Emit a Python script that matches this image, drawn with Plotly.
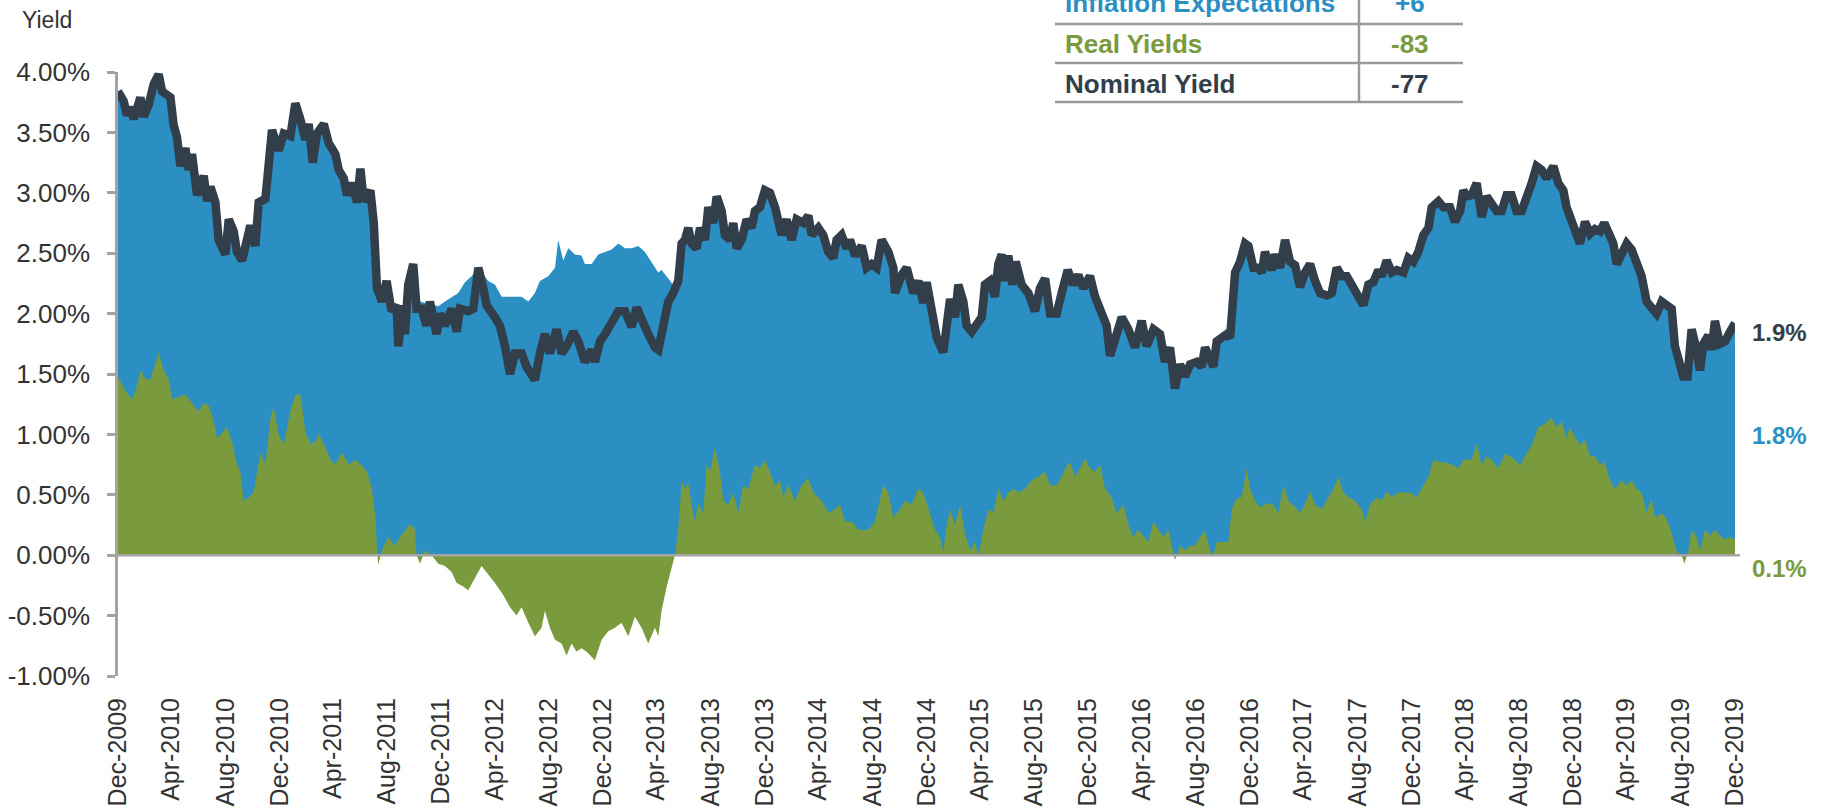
import numpy as np
import pandas as pd
import plotly.graph_objects as go

# ---------------- data (months after 31-Dec-2009, yield in %) ----------------
nominal_points = [
    (0.00,3.84),(0.42,3.76),(0.67,3.64),(0.92,3.71),(1.17,3.61),(1.66,3.79),(1.91,3.63),(2.28,3.73),(2.65,3.90),(3.02,3.98),
    (3.27,3.84),(3.89,3.79),(4.13,3.56),(4.38,3.46),(4.63,3.22),(5.00,3.37),(5.25,3.19),(5.49,3.32),(5.87,2.98),(6.36,3.14),
    (6.61,2.93),(6.86,3.05),(7.23,2.92),(7.47,2.61),(7.97,2.49),(8.22,2.78),(8.59,2.68),(8.83,2.51),(9.21,2.44),(9.45,2.58),
    (9.82,2.73),(10.19,2.56),(10.44,2.92),(10.94,2.95),(11.31,3.30),(11.43,3.52),(11.93,3.35),(12.30,3.49),(12.79,3.47),(13.16,3.74),
    (13.53,3.61),(13.91,3.44),(14.15,3.57),(14.45,3.25),(14.77,3.49),(15.27,3.57),(15.64,3.41),(16.13,3.32),(16.38,3.19),(16.75,3.12),
    (17.00,2.98),(17.37,3.08),(17.74,2.92),(17.99,3.20),(18.23,2.93),(18.73,3.02),(18.98,2.75),(19.22,2.21),(19.59,2.10),
    (19.93,2.27),(20.30,2.02),(20.68,2.07),(20.80,1.73),(21.17,2.07),(21.29,1.83),(21.54,2.24),(21.91,2.41),(22.16,2.04),(22.53,2.04),
    (22.90,1.90),(23.15,2.10),(23.64,1.83),(23.89,2.00),(24.26,1.90),(24.76,2.04),(25.13,1.85),(25.38,2.04),(26.01,2.02),(26.37,2.04),
    (26.74,2.38),(27.11,2.21),(27.35,2.07),(27.97,1.97),(28.34,1.90),(28.72,1.73),(29.09,1.50),(29.46,1.67),(29.95,1.67),(30.32,1.56),
    (30.69,1.50),(30.94,1.45),(31.31,1.67),(31.68,1.83),(32.05,1.67),(32.55,1.87),(32.92,1.67),(33.29,1.73),(33.79,1.85),(34.16,1.77),
    (34.65,1.60),(35.15,1.70),(35.39,1.60),(35.77,1.77),(36.14,1.83),(36.63,1.94),(37.13,2.02),(37.62,2.02),(38.12,1.89),(38.49,2.05),
    (38.86,1.94),(39.35,1.83),(39.85,1.72),
    (40.10,1.70),(40.47,1.90),(40.84,2.10),(41.21,2.17),(41.58,2.27),(41.83,2.58),(42.08,2.61),(42.32,2.71),(42.57,2.58),(42.94,2.54),
    (43.19,2.71),(43.56,2.61),(43.81,2.88),(44.18,2.75),(44.43,2.97),(44.80,2.85),(45.04,2.65),(45.42,2.61),(45.66,2.75),(45.91,2.54),
    (46.28,2.61),(46.65,2.78),(47.02,2.71),(47.27,2.85),(47.64,2.88),(48.01,3.02),(48.38,3.00),(48.76,2.88),(49.25,2.65),(49.62,2.78),
    (49.99,2.61),(50.36,2.78),(50.86,2.75),(51.23,2.81),(51.48,2.65),(51.97,2.71),(52.34,2.65),(52.71,2.51),(53.08,2.46),(53.33,2.61),
    (53.70,2.65),(54.07,2.54),(54.32,2.61),(54.69,2.48),(55.19,2.56),(55.56,2.38),(55.93,2.41),(56.30,2.38),(56.67,2.61),(57.17,2.51),
    (57.54,2.38),(57.66,2.17),(58.16,2.32),(58.53,2.38),(59.02,2.17),(59.39,2.27),(59.76,2.09),
    (60.01,2.26),(60.38,2.04),(60.76,1.80),(61.25,1.68),(61.50,1.94),(61.75,2.12),(62.12,1.97),(62.36,2.24),(62.73,2.10),(62.98,1.90),
    (63.35,1.85),(63.72,1.90),(64.10,1.97),(64.34,2.24),(64.71,2.27),(65.08,2.14),(65.33,2.41),(65.58,2.49),(65.83,2.27),(66.07,2.48),
    (66.37,2.24),(66.62,2.43),(67.06,2.24),(67.56,2.17),(68.05,2.02),(68.42,2.21),(68.80,2.29),(69.17,2.00),(69.66,2.00),(70.03,2.17),
    (70.48,2.36),(70.90,2.24),(71.27,2.32),(71.64,2.21),(72.13,2.31),(72.51,2.14),(73.00,2.02),(73.37,1.90),(73.62,1.65),(73.99,1.80),
    (74.49,1.97),(74.98,1.87),(75.47,1.72),(75.97,1.94),(76.34,1.73),(76.84,1.87),(77.33,1.83),(77.70,1.60),(78.07,1.72),(78.44,1.38),
    (78.81,1.58),(79.19,1.48),(79.56,1.58),
    (80.05,1.60),(80.42,1.56),(80.67,1.72),(81.04,1.60),(81.29,1.56),(81.54,1.77),(81.91,1.80),(82.28,1.83),(82.53,1.80),(82.70,2.17),
    (82.90,2.34),(83.27,2.43),(83.64,2.58),(83.89,2.56),(84.26,2.38),(84.63,2.38),(84.88,2.34),(85.12,2.51),(85.37,2.44),(85.62,2.36),
    (85.87,2.49),(86.24,2.38),(86.61,2.61),(86.98,2.43),(87.35,2.40),(87.72,2.22),(88.09,2.34),(88.46,2.41),(88.84,2.27),(89.21,2.17),
    (89.70,2.15),(90.07,2.17),(90.44,2.38),(90.81,2.31),(91.19,2.31),(91.56,2.24),(92.05,2.17),(92.42,2.07),(92.79,2.24),(93.16,2.26),
    (93.54,2.36),(93.78,2.31),(94.15,2.44),(94.53,2.34),(94.90,2.36),(95.39,2.34),(95.76,2.46),(96.13,2.43),(96.50,2.51),(96.87,2.65),
    (97.25,2.71),(97.49,2.88),(97.99,2.93),(98.36,2.88),(98.85,2.88),(99.22,2.76),(99.60,2.85),(99.84,3.02),
    (100.08,2.97),(100.45,2.98),(100.83,3.08),(101.20,2.80),(101.57,2.97),(101.94,2.92),(102.31,2.85),(102.68,2.85),(103.05,2.98),(103.42,2.98),
    (103.79,2.85),(104.17,2.85),(104.54,2.95),(104.91,3.08),(105.28,3.22),(105.65,3.19),(106.02,3.12),(106.52,3.22),(106.89,3.08),(107.26,3.02),
    (107.50,2.88),(107.88,2.78),(108.25,2.68),(108.49,2.58),(108.87,2.76),(109.24,2.66),(109.61,2.70),(109.98,2.68),(110.30,2.75),(110.60,2.65),
    (110.97,2.58),(111.22,2.41),(111.59,2.51),(111.96,2.58),(112.33,2.53),(112.70,2.41),(113.07,2.31),(113.44,2.10),(113.81,2.05),(114.18,2.00),
    (114.56,2.10),(114.93,2.07),(115.30,2.04),(115.54,1.73),(115.79,1.60),(116.16,1.48),(116.48,1.48),(116.78,1.87),(117.15,1.70),(117.40,1.53),
    (117.65,1.75),(118.02,1.82),(118.27,1.70),(118.51,1.94),(118.88,1.75),(119.26,1.77),(119.63,1.85),(120.00,1.92),
]

real_points = [
    (0.00,1.48),(0.55,1.36),(1.04,1.29),(1.29,1.36),(1.66,1.53),(2.03,1.46),(2.40,1.45),(2.77,1.60),(3.02,1.68),(3.39,1.53),
    (3.76,1.46),(4.01,1.29),(4.50,1.31),(5.00,1.33),(5.49,1.26),(5.99,1.19),(6.36,1.26),(6.73,1.24),(7.10,1.11),(7.35,0.97),
    (7.72,1.01),(8.09,1.06),(8.46,0.94),(8.83,0.75),(9.08,0.70),(9.33,0.45),(9.70,0.48),(10.07,0.52),(10.32,0.69),(10.57,0.85),
    (10.94,0.75),(11.31,1.13),(11.55,1.23),(11.93,0.99),(12.30,0.92),(12.79,1.19),(13.16,1.33),(13.53,1.33),(13.91,1.02),(14.28,0.92),
    (14.65,0.94),(14.89,1.01),(15.39,0.89),(15.76,0.79),(16.13,0.75),(16.63,0.85),(17.12,0.75),(17.62,0.79),(18.11,0.74),(18.48,0.69),
    (18.85,0.55),(19.10,0.31),(19.30,-0.08),(19.59,0.04),
    (20.06,0.15),(20.55,0.08),(20.92,0.15),(21.42,0.23),(21.67,0.26),(22.04,0.21),(22.16,0.00),(22.41,-0.07),(22.78,0.04),(23.27,0.00),
    (23.77,-0.07),(24.26,-0.09),(24.76,-0.14),(25.13,-0.23),(25.62,-0.26),(25.99,-0.29),(26.49,-0.19),(26.98,-0.09),(27.48,-0.16),(27.97,-0.23),
    (28.59,-0.33),(29.09,-0.43),(29.58,-0.50),(29.95,-0.43),(30.45,-0.56),(30.94,-0.67),(31.44,-0.60),(31.68,-0.46),(32.05,-0.60),(32.43,-0.70),
    (32.92,-0.73),(33.29,-0.83),(33.66,-0.73),(34.03,-0.80),(34.40,-0.77),(34.78,-0.80),(35.39,-0.87),(35.89,-0.70),(36.38,-0.63),(36.88,-0.60),
    (37.37,-0.56),(37.87,-0.67),(38.36,-0.51),(38.86,-0.60),(39.35,-0.73),(39.85,-0.60),
    (40.10,-0.67),(40.34,-0.46),(40.72,-0.26),(41.09,-0.09),(41.33,0.00),(41.58,0.21),(41.83,0.62),(42.08,0.55),(42.32,0.60),(42.57,0.42),
    (42.82,0.28),(43.07,0.43),(43.44,0.35),(43.68,0.75),(43.93,0.69),(44.30,0.89),(44.67,0.69),(44.92,0.45),(45.29,0.42),(45.66,0.52),
    (46.03,0.35),(46.41,0.58),(46.78,0.55),(47.27,0.75),(47.64,0.72),(48.01,0.79),(48.38,0.69),(48.76,0.58),(49.13,0.62),(49.37,0.48),
    (49.74,0.58),(50.24,0.45),(50.73,0.58),(51.23,0.64),(51.60,0.52),(52.22,0.45),(52.71,0.35),(53.21,0.38),(53.58,0.42),(53.95,0.28),
    (54.45,0.28),(54.94,0.21),(55.31,0.21),(55.68,0.21),(56.18,0.28),(56.55,0.45),(56.79,0.58),(57.17,0.52),(57.54,0.31),(58.03,0.38),
    (58.40,0.45),(58.90,0.42),(59.39,0.55),(59.76,0.52),
    (60.26,0.35),(60.63,0.21),(61.00,0.15),(61.25,0.03),(61.50,0.25),(61.75,0.38),(62.12,0.25),(62.49,0.42),(62.86,0.18),(63.23,0.04),
    (63.60,0.11),(63.85,0.00),(64.22,0.21),(64.59,0.38),(64.96,0.35),(65.33,0.55),(65.70,0.45),(66.07,0.52),(66.44,0.55),(66.82,0.52),
    (67.31,0.55),(67.81,0.62),(68.30,0.65),(68.80,0.69),(69.17,0.58),(69.66,0.58),(70.03,0.65),(70.40,0.74),(70.65,0.77),(71.02,0.65),
    (71.52,0.75),(71.76,0.80),(72.13,0.72),(72.51,0.69),(72.88,0.75),(73.25,0.55),(73.74,0.48),(74.11,0.35),(74.61,0.42),(74.98,0.25),
    (75.35,0.15),(75.72,0.21),(76.09,0.16),(76.46,0.11),(76.84,0.28),(77.21,0.21),(77.58,0.15),(77.95,0.21),(78.32,0.00),(78.44,-0.04),
    (78.81,0.08),(79.19,0.04),(79.56,0.08),(79.93,0.08),
    (80.30,0.15),(80.67,0.20),(81.04,0.04),(81.29,0.00),(81.54,0.11),(82.03,0.11),(82.40,0.11),(82.65,0.38),(83.02,0.47),(83.39,0.48),
    (83.76,0.72),(84.01,0.55),(84.38,0.45),(84.75,0.40),(85.25,0.43),(85.74,0.42),(86.11,0.35),(86.49,0.58),(86.86,0.45),(87.35,0.40),
    (87.72,0.35),(88.09,0.42),(88.46,0.53),(88.84,0.42),(89.33,0.38),(89.83,0.48),(90.20,0.55),(90.57,0.65),(90.94,0.52),(91.31,0.48),
    (91.80,0.45),(92.30,0.38),(92.55,0.28),(92.92,0.42),(93.41,0.48),(93.78,0.45),(94.15,0.53),(94.53,0.48),(95.02,0.52),(95.39,0.52),
    (95.89,0.52),(96.38,0.48),(96.87,0.58),(97.25,0.65),(97.62,0.79),(98.11,0.77),(98.48,0.77),(98.98,0.75),(99.47,0.72),(99.84,0.79),
    (100.45,0.79),(100.83,0.92),(101.20,0.75),(101.57,0.82),(101.94,0.79),(102.43,0.72),(102.93,0.84),(103.30,0.82),(103.67,0.79),(104.04,0.74),
    (104.41,0.82),(104.91,0.91),(105.40,1.06),(105.90,1.09),(106.39,1.14),(106.76,1.06),(107.13,1.11),(107.50,0.97),(107.75,1.06),(108.12,0.99),
    (108.49,0.91),(108.87,0.96),(109.24,0.82),(109.61,0.82),(109.98,0.75),(110.35,0.77),(110.72,0.62),(111.09,0.55),(111.59,0.62),(111.96,0.58),
    (112.33,0.62),(112.70,0.55),(113.07,0.52),(113.44,0.35),(113.81,0.47),(114.06,0.31),(114.56,0.35),(114.93,0.30),(115.30,0.18),(115.67,0.03),
    (116.04,0.00),(116.24,-0.07),(116.53,0.03),(116.78,0.21),(117.15,0.15),(117.40,0.04),(117.77,0.21),(118.14,0.16),(118.51,0.21),(118.88,0.16),
    (119.26,0.13),(119.63,0.15),(120.00,0.13),
]

# inflation expectations while real yields were negative (shown above nominal)
breakeven_points = [
    (22.41,2.10),(23.77,2.06),(24.26,2.10),(25.25,2.17),(25.75,2.26),(26.24,2.31),(26.74,2.38),(27.48,2.27),(27.97,2.24),(28.47,2.14),
    (28.96,2.14),(29.46,2.14),(29.95,2.14),(30.45,2.10),(30.94,2.17),(31.31,2.27),(31.93,2.31),(32.43,2.38),(32.67,2.61),(33.04,2.44),
    (33.42,2.54),(33.91,2.49),(34.40,2.48),(34.65,2.41),(35.15,2.41),(35.64,2.49),(36.14,2.51),(36.63,2.53),(37.13,2.58),(37.62,2.54),
    (38.12,2.54),(38.61,2.56),(39.11,2.51),(39.60,2.43),(40.09,2.34),(40.34,2.36),(40.96,2.27),(41.33,2.22),
]

table_labels = ["Inflation Expectations", "Real Yields", "Nominal Yield"]
table_changes = ["+6", "-83", "-77"]

tick_months = list(range(0, 121, 4))
y_ticks = [-1.0, -0.5, 0.0, 0.5, 1.0, 1.5, 2.0, 2.5, 3.0, 3.5, 4.0]

# ---------------- styling ----------------
BLUE = "#2b8fc4"
GREEN = "#7a9a3e"
DARK = "#323e4a"
GRAY = "#a3a3a3"
TEXT = "#333333"
FONT = "Liberation Sans, Arial, sans-serif"

START = pd.Timestamp("2009-12-31")


def to_dates(months):
    return START + pd.to_timedelta(np.asarray(months, dtype=float) * 30.4375, unit="D")


nom_m, nom_v = zip(*nominal_points)
real_m, real_v = zip(*real_points)
be_m, be_v = zip(*breakeven_points)

nom_x = to_dates(nom_m)
real_x = to_dates(real_m)
be_x = to_dates(be_m)

fig = go.Figure()
fig.add_trace(go.Scatter(x=nom_x, y=nom_v, mode="lines", fill="tozeroy",
                         fillcolor=BLUE, line=dict(width=0, color=BLUE),
                         hoverinfo="skip", showlegend=False))
fig.add_trace(go.Scatter(x=be_x, y=be_v, mode="lines", fill="tozeroy",
                         fillcolor=BLUE, line=dict(width=0, color=BLUE),
                         name="Inflation Expectations", showlegend=False))
fig.add_trace(go.Scatter(x=real_x, y=real_v, mode="lines", fill="tozeroy",
                         fillcolor=GREEN, line=dict(width=0, color=GREEN),
                         name="Real Yields", showlegend=False))
fig.add_trace(go.Scatter(x=nom_x, y=nom_v, mode="lines",
                         line=dict(width=8.5, color=DARK),
                         name="Nominal Yield", showlegend=False))

# page geometry (body margin removed by post_script, figure at page origin)
PAGE_W, PAGE_H = 1828, 809
P_LEFT, P_RIGHT, P_TOP, P_BOTTOM = 118, 1735, 72, 676
W, H = PAGE_W, PAGE_H
ML, MR, MT, MB = P_LEFT, PAGE_W - P_RIGHT, P_TOP, PAGE_H - P_BOTTOM
PW, PH = P_RIGHT - P_LEFT, P_BOTTOM - P_TOP


def px(xp):
    return (xp - P_LEFT) / PW


def py(yp):
    return (P_BOTTOM - yp) / PH


tick_dates = [START + pd.offsets.MonthEnd(m) if m else START for m in tick_months]
fig.update_xaxes(
    type="date",
    range=[to_dates([0])[0], to_dates([120])[0]],
    tickvals=tick_dates,
    ticktext=[d.strftime("%b-%Y") for d in tick_dates],
    tickangle=-90,
    tickfont=dict(family=FONT, size=25, color=TEXT),
    ticks="", showline=False, showgrid=False, zeroline=False,
    ticklabelstandoff=16,
)
fig.update_yaxes(
    range=[-1, 4],
    tickvals=y_ticks,
    ticktext=[f"{v:.2f}%" for v in y_ticks],
    tickfont=dict(family=FONT, size=26, color=TEXT),
    ticks="outside", ticklen=8, tickwidth=2.5, tickcolor=GRAY,
    showline=True, linecolor=GRAY, linewidth=2.5,
    showgrid=False, zeroline=False,
    ticklabelstandoff=12,
)

shapes = [
    dict(type="line", xref="paper", yref="y", x0=0, x1=1.003, y0=0, y1=0,
         line=dict(color=GRAY, width=2.5), layer="above"),
]
# table rules
for yline in (24, 63, 102):
    shapes.append(dict(type="line", xref="paper", yref="paper",
                       x0=px(1055), x1=px(1463), y0=py(yline), y1=py(yline),
                       line=dict(color="#9a9a9a", width=2.5)))
shapes.append(dict(type="line", xref="paper", yref="paper",
                   x0=px(1359), x1=px(1359), y0=py(-10), y1=py(102),
                   line=dict(color="#9a9a9a", width=2.5)))

annotations = [
    dict(text="Yield", xref="paper", yref="paper", x=px(20), y=py(20),
         xanchor="left", yanchor="middle", showarrow=False,
         font=dict(family=FONT, size=23, color=TEXT)),
]
row_colors = [BLUE, GREEN, DARK]
row_centers = [3.5, 43.5, 84]
for lab, chg, col, yc in zip(table_labels, table_changes, row_colors, row_centers):
    annotations.append(dict(text=f"<b>{lab}</b>", xref="paper", yref="paper",
                            x=px(1063), y=py(yc), xanchor="left", yanchor="middle",
                            showarrow=False, font=dict(family=FONT, size=26, color=col)))
    annotations.append(dict(text=f"<b>{chg}</b>", xref="paper", yref="paper",
                            x=px(1410), y=py(yc), xanchor="center", yanchor="middle",
                            showarrow=False, font=dict(family=FONT, size=26, color=col)))

last_nom = nom_v[-1]
last_real = real_v[-1]
last_be = last_nom - last_real
end_labels = [(f"{last_nom:.1f}%", DARK, 332), (f"{last_be:.1f}%", BLUE, 435), (f"{last_real:.1f}%", GREEN, 568)]
for txt, col, yc in end_labels:
    annotations.append(dict(text=f"<b>{txt}</b>", xref="paper", yref="paper",
                            x=px(1750), y=py(yc), xanchor="left", yanchor="middle",
                            showarrow=False, font=dict(family=FONT, size=24, color=col)))

fig.update_layout(
    width=W, height=H,
    margin=dict(l=ML, r=MR, t=MT, b=MB, autoexpand=False),
    paper_bgcolor="white", plot_bgcolor="white",
    showlegend=False,
    shapes=shapes, annotations=annotations,
    font=dict(family=FONT, color=TEXT),
)

fig.write_html(
    "out.html",
    config={"displayModeBar": False},
    post_script="document.body.style.margin='0px';document.body.style.overflow='hidden';",
)
